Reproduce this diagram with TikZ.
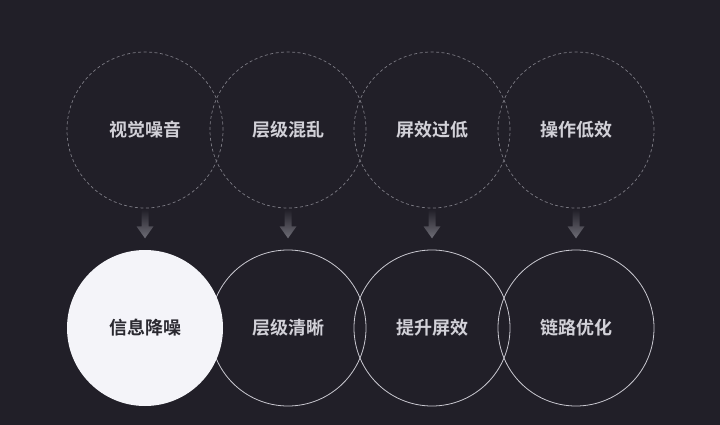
\documentclass[tikz,border=0pt]{standalone}
\usepackage{fontspec}
\newfontfamily\cjk{Noto Sans CJK SC}[BoldFont={Noto Sans CJK SC Bold}]
\definecolor{bg}{HTML}{211F28}
\definecolor{dashc}{HTML}{7C7B84}
\definecolor{ringc}{HTML}{C9C8D0}
\definecolor{txtl}{HTML}{D2D1D8}
\definecolor{txtd}{HTML}{2A2930}
\definecolor{fillw}{HTML}{F4F4F9}
\definecolor{arrowc}{HTML}{6E6D76}
\tikzset{
  problem/.style={circle,draw=dashc,dash pattern=on 3pt off 2.5pt,line width=0.7pt,minimum size=156pt,inner sep=0pt,text=txtl,font=\cjk\bfseries\fontsize{18}{21}\selectfont},
  goal/.style={circle,draw=ringc,line width=0.8pt,minimum size=156pt,inner sep=0pt,text=txtl,font=\cjk\bfseries\fontsize{18}{21}\selectfont},
  goalw/.style={goal,draw=none,fill=fillw,text=txtd},
  downarrow/.style={top color=bg,bottom color=arrowc,draw=none}
}
\begin{document}
\begin{tikzpicture}[x=1pt,y=-1pt]
\fill[bg] (0,0) rectangle (720,425);
\useasboundingbox (0,0) rectangle (720,425);
\node[problem] (p1) at (145,130) {视觉噪音};
\node[problem] (p2) at (288,130) {层级混乱};
\node[problem] (p3) at (432,130) {屏效过低};
\node[problem] (p4) at (576,130) {操作低效};
\node[goal] (g4) at (576,328) {链路优化};
\node[goal] (g3) at (432,328) {提升屏效};
\node[goal] (g2) at (288,328) {层级清晰};
\node[goalw] (g1) at (145,328) {信息降噪};
\foreach \i in {1,2,3,4}{
  \path (p\i.south) ++(-3.5,1) coordinate (a\i);
  \shade[downarrow] (a\i) -- ++(7,0) -- ++(0,17) -- ++(5,0) -- ++(-8.5,12) -- ++(-8.5,-12) -- ++(5,0) -- cycle;
}
\end{tikzpicture}
\end{document}
